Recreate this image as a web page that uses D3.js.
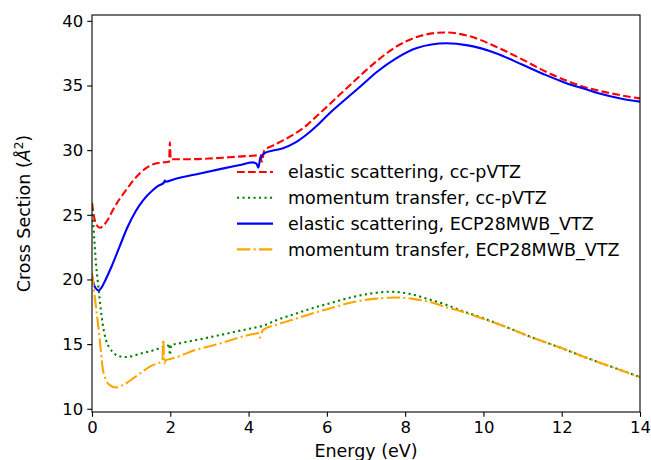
<!DOCTYPE html>
<html>
<head>
<meta charset="utf-8">
<script src="https://cdn.jsdelivr.net/npm/d3@7"></script>
<style>
  body { margin: 0; background: #fff; }
  svg { font-family: "DejaVu Sans", sans-serif; }
</style>
</head>
<body>
<div id="chart"></div>
<script>
// [energy (eV), cross section (A^2)]
var elasticVTZ = [[0,25.9],[0.05,24.9],[0.1,24.3],[0.2,24.0],[0.3,24.2],[0.4,24.6],[0.53,25.35],[0.7,26.2],
  [0.87,26.9],[1.04,27.6],[1.22,28.2],[1.4,28.65],[1.6,28.95],[1.8,29.05],[1.97,29.1],[1.99,30.6],[2.01,29.3],
  [2.2,29.3],[2.5,29.3],[3,29.35],[3.5,29.45],[4.0,29.55],[4.3,29.6],[4.34,29.1],[4.4,29.95],[4.62,30.35],
  [4.88,30.75],[5.2,31.3],[5.5,31.95],[5.73,32.6],[6.07,33.55],[6.58,35.0],[6.92,35.95],[7.3,36.95],[7.77,38.0],
  [8.3,38.75],[9.0,39.1],[9.6,38.85],[10.32,38.0],[11.0,37.0],[11.6,36.06],[12.1,35.4],[12.62,34.85],
  [12.94,34.6],[13.5,34.25],[14,34.0]];

var momentumVTZ = [[0,25.9],[0.03,24.5],[0.06,23.0],[0.1,21.3],[0.15,19.8],[0.19,18.65],[0.27,16.6],[0.36,15.3],
  [0.45,14.7],[0.53,14.4],[0.65,14.1],[0.83,14.0],[1.0,14.05],[1.22,14.25],[1.55,14.5],[1.89,14.85],[1.95,14.9],
  [1.97,15.05],[1.99,14.15],[2.02,14.9],[2.3,15.1],[2.8,15.4],[3.27,15.7],[3.8,16.05],[4.2,16.3],[4.35,16.4],
  [4.71,16.85],[5.2,17.35],[5.6,17.75],[6.07,18.15],[6.6,18.6],[7.1,18.9],[7.6,19.05],[8.1,18.9],[8.62,18.45],
  [9.0,18.1],[9.47,17.55],[10.0,17.0],[10.6,16.3],[11.17,15.6],[11.94,14.75],[12.5,14.1],[12.94,13.6],
  [13.5,13.0],[14,12.45]];

var elasticECP = [[0,20.3],[0.05,19.6],[0.1,19.3],[0.17,19.15],[0.25,19.4],[0.35,20.0],[0.5,21.0],[0.7,22.5],
  [0.9,24.0],[1.12,25.3],[1.3,26.1],[1.55,26.9],[1.7,27.25],[1.84,27.5],[1.86,27.65],[1.88,27.55],[2.1,27.75],
  [2.76,28.2],[3.3,28.55],[3.78,28.85],[4.1,29.05],[4.2,28.95],[4.25,28.65],[4.3,29.4],[4.4,29.75],[4.6,29.95],
  [4.88,30.15],[5.2,30.6],[5.5,31.25],[5.73,31.85],[6.07,32.85],[6.58,34.2],[6.92,35.1],[7.3,36.1],[7.77,37.1],
  [8.3,37.9],[9.05,38.26],[9.6,38.1],[10.32,37.5],[11.0,36.6],[11.6,35.8],[12.1,35.2],[12.62,34.7],
  [12.94,34.4],[13.5,34.0],[14,33.75]];

var momentumECP = [[0,20.5],[0.05,19.2],[0.1,17.9],[0.19,15.6],[0.27,13.2],[0.36,12.2],[0.45,11.85],[0.61,11.65],
  [0.8,11.85],[1.12,12.5],[1.5,13.3],[1.8,13.7],[1.82,15.35],[1.85,13.5],[1.88,13.75],[2.07,13.9],[2.6,14.5],
  [3.27,15.05],[3.8,15.55],[4.16,15.8],[4.24,15.85],[4.28,15.5],[4.37,16.1],[4.71,16.5],[5.2,16.95],[5.6,17.35],
  [6.07,17.75],[6.6,18.2],[7.2,18.5],[7.77,18.6],[8.2,18.5],[8.62,18.27],[9.0,17.9],[9.47,17.5],[10.0,16.95],
  [10.6,16.3],[11.17,15.6],[11.94,14.75],[12.5,14.1],[12.94,13.6],[13.5,13.0],[14,12.45]];

var seriesNames = ["elastic scattering, cc-pVTZ", "momentum transfer, cc-pVTZ",
                   "elastic scattering, ECP28MWB_VTZ", "momentum transfer, ECP28MWB_VTZ"];
var xTicks = [0, 2, 4, 6, 8, 10, 12, 14];
var yTicks = [10, 15, 20, 25, 30, 35, 40];

var series = [
  { name: seriesNames[0], values: elasticVTZ,  color: "#ff0000", dash: "7.7,3.3" },
  { name: seriesNames[1], values: momentumVTZ, color: "#008000", dash: "2.1,3.4" },
  { name: seriesNames[2], values: elasticECP,  color: "#0000ff", dash: null },
  { name: seriesNames[3], values: momentumECP, color: "#ffa500", dash: "13.3,3.3,2.1,3.3" }
];

var width = 651, height = 460;
var margin = { left: 92, right: 11, top: 15, bottom: 48 };
var labelSize = 17.5, tickSize = 16.5;

var svg = d3.select("#chart").append("svg")
    .attr("width", width)
    .attr("height", height);

var x = d3.scaleLinear().domain([0, 14]).range([margin.left, width - margin.right]);
var y = d3.scaleLinear().domain([9.75, 40.45]).range([height - margin.bottom, margin.top]);

var line = d3.line()
    .x(function(d) { return x(d[0]); })
    .y(function(d) { return y(d[1]); })
    .curve(d3.curveMonotoneX);

svg.append("defs").append("clipPath").attr("id", "clip")
  .append("rect")
    .attr("x", x(0)).attr("y", y(40.45))
    .attr("width", x(14) - x(0)).attr("height", y(9.75) - y(40.45));

var plot = svg.append("g").attr("clip-path", "url(#clip)");
plot.selectAll("path.series")
    .data(series)
  .enter().append("path")
    .attr("class", "series")
    .attr("fill", "none")
    .attr("stroke", function(d) { return d.color; })
    .attr("stroke-width", 2.1)
    .attr("stroke-dasharray", function(d) { return d.dash; })
    .attr("d", function(d) { return line(d.values); });

// axes
var xAxis = svg.append("g")
    .attr("transform", "translate(0," + y(9.75) + ")")
    .call(d3.axisBottom(x).tickValues(xTicks).tickSize(4.8).tickPadding(4).tickFormat(d3.format("d")));
var yAxis = svg.append("g")
    .attr("transform", "translate(" + x(0) + ",0)")
    .call(d3.axisLeft(y).tickValues(yTicks).tickSize(4.8).tickPadding(4).tickFormat(d3.format("d")));

[xAxis, yAxis].forEach(function(a) {
  a.select(".domain").remove();
  a.selectAll("line").attr("stroke", "#000").attr("stroke-width", 1.1);
  a.selectAll("text").attr("font-size", tickSize).attr("fill", "#000")
    .attr("font-family", "DejaVu Sans");
});

// frame
svg.append("rect")
    .attr("x", x(0)).attr("y", y(40.45))
    .attr("width", x(14) - x(0)).attr("height", y(9.75) - y(40.45))
    .attr("fill", "none").attr("stroke", "#000").attr("stroke-width", 1.1);

// axis labels
svg.append("text")
    .attr("x", (x(0) + x(14)) / 2)
    .attr("y", 457)
    .attr("text-anchor", "middle")
    .attr("font-size", labelSize)
    .text("Energy (eV)");

var ylab = svg.append("text")
    .attr("transform", "translate(30," + ((y(9.75) + y(40.45)) / 2) + ") rotate(-90)")
    .attr("text-anchor", "middle")
    .attr("font-size", labelSize);
ylab.append("tspan").text("Cross Section (");
ylab.append("tspan").attr("font-style", "italic").text("Å");
ylab.append("tspan").attr("dy", -7).attr("font-size", 12).text("2");
ylab.append("tspan").attr("dy", 7).text(")");

// legend
var legend = svg.append("g").attr("transform", "translate(237,172)");
var item = legend.selectAll("g")
    .data(series)
  .enter().append("g")
    .attr("transform", function(d, i) { return "translate(0," + (i * 25.8) + ")"; });
item.append("line")
    .attr("x1", 0).attr("x2", 36)
    .attr("stroke", function(d) { return d.color; })
    .attr("stroke-width", 2.1)
    .attr("stroke-dasharray", function(d) { return d.dash; });
item.append("text")
    .attr("x", 51)
    .attr("dy", "0.35em")
    .attr("font-size", labelSize)
    .text(function(d) { return d.name; });
</script>
</body>
</html>
